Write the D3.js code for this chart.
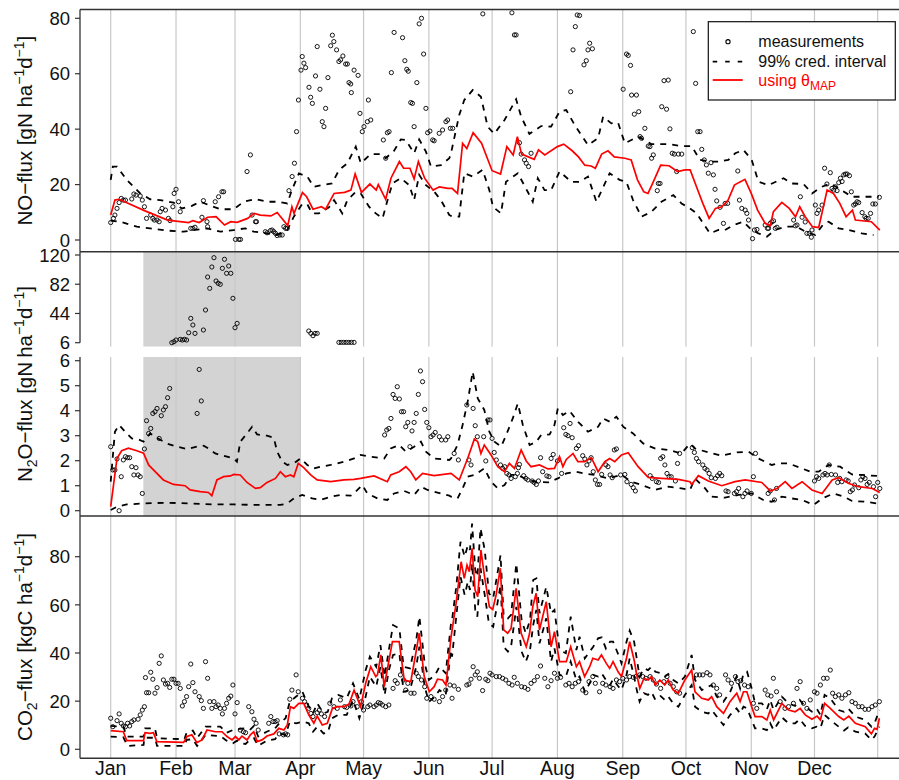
<!DOCTYPE html>
<html>
<head>
<meta charset="utf-8"/>
<script src="https://d3js.org/d3.v7.min.js"></script>
<style>
  body { margin: 0; background: #fff; }
  text { font-family: "Liberation Sans", Arial, Helvetica, sans-serif; }
</style>
</head>
<body>
<script>
// ---- data: [day of year, value] ----
var monthNames = ["Jan","Feb","Mar","Apr","May","Jun","Jul","Aug","Sep","Oct","Nov","Dec"];
var monthDays = [0,31,59,90,120,151,181,212,243,273,304,334];
var yearEnd = 364;
var shadeDays = [15.5, 90];

var noTicks = [0,20,40,60,80];
var n2oHighTicks = [6,44,82,120];
var n2oTicks = [0,1,2,3,4,5,6];
var co2Ticks = [0,20,40,60,80];

var noMid = [[0,9.0],[2,14.4],[4,14.7],[16,10.6],[27,7.2],[37,6.3],[39,7.0],[42,6.3],[46,8.2],[50,8.4],[54,5.4],[57,6.6],[60,6.4],[65,7.8],[68,9.6],[71,9.0],[76,8.7],[79,9.9],[84,5.2],[86,12],[87,9.6],[91,17.1],[93,15.6],[96,11.1],[100,12],[102,11.1],[106,16.8],[111,17.2],[114,18],[116,23.8],[119,17.2],[123,20.2],[126,18],[127,20],[130.5,14.7],[133,22.3],[137,28.3],[139,25.9],[142,25.9],[144,22],[146,28.3],[149,22.3],[153,18],[156,19.2],[160,18.6],[162,18.6],[164.6,16.8],[167,34.9],[169,33],[172,38.7],[176,34.9],[181,25],[185,23.8],[188,33.7],[191,30.7],[193,37.3],[195,31],[201,29.1],[203,32.5],[206,30.7],[212,33.7],[215,34.6],[219,32.2],[222,30],[225,27],[228,26.7],[230,25.9],[233,31],[236,32.2],[239,30],[244,29.5],[247,28.9],[250,21.7],[253,17.4],[255,16.8],[257.5,21],[261,27],[265,26.8],[269,24.7],[272.5,25.3],[275,25.3],[278,19.2],[281,13.2],[284,7.8],[287,11.4],[290,12],[293,14.4],[296,19.8],[298,20.7],[301,21.9],[304,16.8],[307,10.8],[310.6,6.0],[313,5.1],[314.5,10.2],[318.5,13.6],[322,11.4],[325,8.4],[327,12],[329.6,8.4],[333,4.8],[336,4.5],[340,18],[343,16.8],[346,13.2],[349,8.4],[352,10.8],[353.4,7.2],[361,6.6],[365,3.6]];
var noHi = [[0,21.7],[1,26.5],[3,26.5],[7.6,21.7],[14,16.8],[18.7,14.7],[23.5,14.4],[29.8,13.5],[33.8,11.4],[38.5,12.3],[42.5,13.8],[47.3,12.4],[52,11.1],[58.4,11.1],[63.1,13.8],[68.7,14.8],[74.2,13.8],[79,13.8],[83.8,13.2],[86,18],[89.3,24],[93.3,22.9],[96.4,19.2],[100.4,19.8],[105,20.4],[108.4,25.3],[112.3,27.7],[116.3,33.7],[118.7,27.7],[123.4,31],[128.2,31],[130.5,29.5],[134.5,32.2],[137.7,36.3],[140,36.1],[144,31.3],[146.4,36.3],[149.6,31.9],[152,26.5],[156.7,27],[160.7,29.5],[161.5,31.3],[165.4,45.1],[167.8,50.5],[171.8,54.1],[175.7,51.7],[178.9,40.9],[182,38.3],[186.9,43.3],[192.4,50.8],[194.8,44.5],[198.7,38.3],[204.3,41.1],[209,40.9],[213,46.3],[216.2,46.9],[220.2,41.5],[226.5,34.3],[231.3,36.7],[233.7,44.5],[237.6,42.1],[240.8,42.3],[244,34.9],[250.3,37.3],[256.6,34.6],[264.6,34.6],[270.9,33.9],[275.7,33.9],[279.6,28.9],[284.4,28.3],[288.4,28.3],[293.1,28.9],[296.4,31.3],[300.3,32.5],[304.2,28.9],[307.4,21],[312.2,19.8],[319.3,22.3],[323.3,20.4],[328.8,20.2],[332.8,16.8],[337.5,19.2],[341.5,20.4],[346.2,18.3],[351.8,15.6],[358.1,15.6],[364.5,15.6]];
var noLo = [[0,7],[4.4,6.6],[12.4,4.8],[18.7,4.2],[26.6,3.4],[34.6,3],[39.3,3.6],[45.7,4.2],[52,3],[58.4,3.6],[63.9,4.2],[67.9,3],[74.2,2.4],[79,1.8],[83.8,3.6],[86.9,8.4],[90.9,13],[93.3,12.9],[95.6,9.6],[98.8,9.6],[103.6,11.8],[106,14.4],[109.9,9.6],[112.3,14.4],[116.3,17.4],[118.7,16.8],[122.6,12],[125.8,9.6],[129,7.8],[131.4,14.4],[133.7,20.4],[137.7,22.3],[141.7,19.8],[144,14.4],[146.4,23.5],[149.6,19.8],[153.6,17.4],[156.7,14.4],[160.7,9],[162.3,8.4],[165.4,8.4],[167.8,24.1],[171.8,22.9],[176.5,25.3],[179.7,18],[181.4,12],[185.2,9.6],[187.6,21],[193.2,24.1],[197.9,17.4],[200.3,13.8],[202.7,22.3],[205.9,18],[209,18],[213,24.7],[218.6,21],[222.5,21],[226.5,22.9],[230.5,13.8],[236.8,24.1],[241.5,21.7],[244.7,21],[247.9,14.4],[251.9,8.4],[256.6,10.2],[261.4,13.8],[267,16.2],[270.9,13.2],[274.9,11.4],[278.1,9.6],[281.2,6],[284.4,2.4],[288.4,3.6],[291.5,3.6],[295.5,5.4],[300.3,6.6],[304.2,3.6],[307.4,2.4],[311.4,1.2],[315.3,3.6],[320.1,4.8],[325.6,4.8],[329.6,3],[334.4,1.8],[338.3,5.8],[340.7,6.6],[345.5,4.2],[350.2,3.6],[356.4,2.4],[362,1.8]];
var noObs = [[0,6.3],[1.3,7.8],[2,9.0],[3,11.4],[4,13.5],[5,15.0],[6,14.4],[7,14.4],[10,14.8],[11,16.6],[12,16.2],[14,15.9],[15,14.4],[16,12.0],[17,7.8],[19,9.0],[20,7.8],[20.7,7.2],[22,7.2],[23,6.6],[23.5,10.2],[24.4,11.4],[26,10.8],[27.4,7.8],[28.2,7.0],[29.5,12.0],[30.1,16.8],[31,18.3],[32.2,13.8],[33,10.2],[38,4.2],[39,4.2],[40,4.6],[43.3,8.2],[44,14.2],[45.7,6.6],[46,4.8],[49.6,13.8],[51.2,15.6],[52.8,17.4],[53.6,17.4],[59.2,0.2],[60.8,0.2],[61.6,0.2],[64.7,24.7],[66.3,30.7],[67.1,9.0],[68.7,6.6],[69.2,6.6],[73.4,3.0],[74.2,2.6],[75.8,3.4],[76.6,3.6],[77.4,3.0],[78.2,2.4],[79,1.6],[80.3,1.8],[81.4,1.8],[82.2,4.8],[83,4.2],[83.8,4.2],[84.6,17.8],[86.1,22.9],[87.2,27.7],[88.2,39.1],[89.1,50.5],[90.3,61.3],[90.9,66.2],[91.7,63.8],[92.5,62.2],[94.1,55.1],[94.9,51.5],[95.7,49.3],[97.2,59.2],[98,69.8],[99.3,54.4],[100.4,42.7],[101.2,40.9],[102,47.5],[103.1,58.6],[104.4,70.1],[105.2,73.9],[105.9,71.6],[107.2,68.6],[108.3,64.4],[109.1,65.0],[110.2,66.4],[111.5,63.5],[112.3,63.5],[113.1,56.8],[113.9,56.3],[114.2,53.2],[115.5,61.3],[117.4,59.4],[118.3,45.7],[119.4,39.1],[120.2,40.9],[121.8,42.7],[122.3,50.5],[123.4,43.3],[129.4,36.1],[130.5,29.5],[131.3,38.7],[132.1,39.1],[133.2,60.4],[134.5,74.9],[138.5,73.0],[139.6,64.7],[140.5,61.6],[141.2,60.9],[142.4,49.6],[143.2,49.3],[144,40.9],[145.3,56.8],[146.4,78.0],[147.5,80.0],[148.5,67.1],[149.6,47.5],[150.4,38.7],[151.5,39.3],[152.8,36.1],[153.5,35.8],[155.9,38.5],[157.5,39.7],[159.1,42.7],[159.9,43.3],[161.2,40.3],[162.3,40.3],[176.6,81.6],[190.4,82.0],[191.6,74.0],[192.4,74.0],[194,35.1],[194.8,31.0],[196.4,28.9],[197.2,27.7],[198.3,26.5],[199.5,31.3],[218.3,53.5],[219.4,68.6],[220.5,77.0],[221.4,81.2],[222.5,81.0],[224.6,63.2],[225.7,64.7],[226.5,68.6],[227.3,71.0],[228.6,69.0],[243.2,54.4],[244.8,67.1],[245.6,66.6],[246.7,63.0],[247.2,52.3],[248.5,45.4],[249.5,52.3],[250.6,46.3],[251.2,37.3],[251.9,36.7],[253.5,40.3],[255.1,33.9],[255.9,33.7],[256.7,29.5],[257.5,30.7],[259.4,17.8],[259.9,20.4],[260.7,20.4],[261.5,48.1],[262.6,57.5],[263.8,47.2],[264.6,57.7],[265.4,40.1],[266.5,31.3],[267.5,31.0],[268.6,24.7],[269.4,31.0],[271,31.0],[276.5,75.2],[277.6,56.5],[278.6,39.1],[279.7,39.1],[280.5,32.7],[281.7,28.9],[282.7,27.1],[283.6,24.1],[284.9,27.9],[286,23.5],[286.8,18.3],[287.6,14.1],[289.2,11.8],[290.8,6.0],[291.6,13.2],[292.8,13.2],[297.6,24.9],[298.4,14.4],[299.5,11.4],[301.1,10.8],[301.9,9.6],[302.7,7.2],[304.6,0.5],[305.5,3.6],[306.7,3.8],[310.6,5.4],[311.7,4.2],[312.2,4.2],[313,6.0],[313.8,6.6],[314.6,6.9],[315.4,4.2],[316.2,4.6],[324.1,7.2],[324.9,5.1],[325.7,5.4],[327.3,15.6],[328.1,8.2],[329.6,6.5],[330.4,2.4],[331.5,2.4],[332.5,1.0],[332.8,3.6],[334.4,12.6],[335.2,9.6],[336,10.8],[337.6,12.6],[338.8,25.9],[339.9,20.2],[341.5,24.3],[342.3,18.6],[343.1,18.0],[343.9,19.2],[344.7,17.8],[345.5,20.7],[346.3,22.3],[347.1,21.1],[347.9,23.5],[348.7,23.8],[349.5,23.8],[350.6,23.2],[351.5,17.4],[352.6,12.6],[353.4,13.0],[354.2,13.8],[355,13.5],[356.6,9.9],[357.9,8.4],[358.5,7.8],[359.5,7.8],[360.6,9.6],[361.7,13.0],[362.9,13.0],[364.8,15.4]];

var n2oMid = [[0,0.16],[1.3,1.0],[3,2.1],[5.2,2.4],[8.4,2.5],[12.4,2.4],[15.6,2.3],[18,1.83],[20.3,1.63],[25,1.23],[29.8,1.05],[35.3,1.0],[37.7,0.83],[42.5,0.76],[46.4,0.73],[48,0.6],[50.4,1.23],[53.6,1.36],[56.8,1.39],[58.4,1.45],[61.5,1.43],[64.7,1.13],[68.7,0.89],[71,0.92],[74.2,1.13],[78.2,1.29],[80.5,1.56],[82.9,1.36],[85.3,1.43],[86.9,1.36],[89,1.89],[91.6,1.72],[94.9,1.43],[98,1.23],[104.4,1.16],[110.7,1.23],[115.5,1.25],[118.6,1.29],[125,1.39],[131.3,1.16],[132.9,1.43],[136.9,1.56],[140.1,1.76],[142.4,1.56],[144.8,1.23],[148,1.49],[153.5,1.4],[161.5,1.49],[165.4,1.23],[169.4,2.09],[172.6,2.87],[174.2,2.76],[175.7,2.29],[177.3,2.63],[180.5,2.23],[183.7,1.76],[186.9,1.56],[189.2,1.89],[191.6,1.69],[194.8,2.43],[197.2,1.99],[199.5,1.76],[203.5,1.83],[207.5,1.67],[210.6,1.69],[213,2.16],[214.6,1.76],[216.2,2.05],[219.4,2.29],[221.7,1.96],[224.9,1.96],[228.1,2.12],[231.3,1.56],[234.5,1.96],[236.8,2.09],[239.2,1.96],[242.4,2.23],[245.6,2.32],[250.3,1.76],[255.1,1.33],[261.4,1.29],[269.4,1.25],[274.9,1.16],[275.7,1.05],[278.9,1.4],[283.6,1.19],[290,1.0],[296.3,1.16],[301.1,1.23],[309,1.13],[313,0.79],[316.2,0.89],[320.1,1.16],[323.3,0.89],[328.1,1.16],[332.8,0.83],[337.6,0.69],[342.4,1.23],[345.5,1.32],[350.3,1.09],[355,0.96],[361.4,0.89],[365,0.73]];
var n2oHi = [[0,1.16],[2,3.16],[4,3.43],[7.6,3.09],[10,2.89],[13.2,2.85],[15.6,2.76],[18.7,3.09],[21.9,2.92],[26.6,2.69],[31.4,2.56],[36.2,2.47],[40.9,2.56],[44.1,2.6],[46.4,2.49],[49.6,2.29],[55.2,2.16],[58.4,2.09],[59.9,1.96],[61.5,2.76],[64.7,3.09],[67.1,3.36],[69.5,3.05],[74.2,3.0],[77.4,2.92],[79,2.36],[81.4,1.96],[83.8,1.83],[86.9,1.89],[90.1,2.09],[93.3,1.83],[96.4,1.69],[99.6,1.76],[104.4,1.83],[110.7,1.96],[115.5,2.09],[118.6,2.23],[123.4,2.16],[129.8,2.09],[132.9,2.49],[136.9,2.63],[140.1,2.36],[144,2.56],[147.2,2.76],[149.6,2.36],[153.5,2.09],[160.7,2.03],[161.5,2.09],[164.6,2.63],[167,3.43],[169.4,4.36],[171.8,5.56],[174.2,4.49],[177.3,4.03],[179.7,3.16],[182.1,2.76],[185.3,2.56],[187.7,3.03],[190.8,3.69],[193.2,4.29],[195.6,3.43],[198.8,2.63],[202,2.76],[204.3,3.03],[208.3,3.05],[210.6,3.43],[212.2,4.09],[214.6,3.83],[217.8,3.99],[221.7,3.56],[226.5,3.16],[231.3,3.36],[233.7,3.69],[236.8,3.56],[240,3.76],[243.2,3.36],[247.9,3.09],[252.7,2.69],[258.2,2.49],[264.6,2.43],[270.9,2.29],[274.9,2.69],[277.3,2.49],[283.6,2.33],[290,2.2],[297.2,2.33],[302.7,2.36],[307.4,2.09],[313.7,1.83],[316.9,1.89],[321.7,1.89],[327.2,1.72],[332,1.56],[336,1.56],[340.7,1.83],[346.2,1.76],[351.8,1.45],[356.6,1.43],[363.8,1.39]];
var n2oLo = [[0,0.03],[3,0.16],[7.6,0.25],[15.6,0.29],[26.6,0.32],[37.7,0.29],[48.8,0.25],[58.4,0.25],[69.5,0.23],[80.5,0.23],[83.8,0.29],[86.9,0.49],[90.9,0.63],[95.6,0.49],[99.6,0.43],[104.4,0.56],[109.1,0.63],[113.9,0.6],[117.1,0.83],[119.4,1.03],[121.8,0.69],[126.6,0.49],[131.3,0.43],[134.5,0.69],[139.3,0.79],[144,0.63],[147.2,0.96],[150.4,0.83],[156.7,0.69],[160.7,0.6],[161.5,0.56],[164.6,0.49],[167,0.89],[169.4,1.36],[172.6,1.43],[177.3,1.69],[180.5,1.16],[183.7,0.89],[186.9,1.03],[190,1.43],[193.2,1.43],[196.4,1.29],[201.1,1.16],[207.5,1.13],[212.2,1.29],[216.2,1.49],[221,1.56],[224.9,1.49],[229.7,1.43],[236.1,1.29],[242.4,1.43],[247.2,1.16],[251.9,1.03],[258.2,0.83],[264.6,0.96],[270.9,0.89],[274.9,0.83],[277.3,1.29],[282.1,0.89],[285.2,0.56],[291.5,0.52],[297.9,0.63],[304.2,0.69],[309.7,0.43],[313.7,0.36],[318.5,0.56],[323.3,0.49],[328.1,0.43],[333.6,0.23],[337.6,0.49],[343.1,0.69],[347.9,0.56],[351.8,0.39],[358.1,0.36],[363.8,0.29]];
var n2oObs = [[0,2.56],[1,1.63],[2,1.63],[3,2.07],[4,0.0],[5,1.36],[6,2.03],[7,2.16],[8,2.12],[9,2.12],[10,1.76],[11,1.43],[12,1.72],[13,1.43],[14,1.36],[15,0.69],[16,2.47],[17,3.6],[18,3.09],[19,3.29],[20,3.89],[21,3.96],[22,4.09],[23,2.89],[24,3.8],[25,4.03],[26,4.16],[27,4.52],[28,4.89],[41,3.89],[42,5.65],[43,4.39],[130,3.03],[131,3.23],[132,3.29],[133,3.69],[134,4.65],[135,4.49],[136,4.96],[137,4.47],[138,3.96],[139,3.96],[140,3.36],[141,3.53],[142,2.56],[143,3.19],[144,3.53],[145,3.89],[146,4.65],[147,5.59],[148,5.16],[149,4.05],[150,3.53],[151,3.32],[152,2.96],[153,3.03],[154,3.13],[156,2.96],[157,2.83],[159,2.83],[160,2.96],[163,2.29],[165,2.03],[169,4.23],[170,2.03],[171,1.83],[172,4.09],[173,3.4],[174,2.96],[177,2.96],[178,1.99],[179,3.63],[180,3.63],[181,2.89],[182,2.33],[183,2.03],[185,1.83],[186,1.69],[187,1.76],[188,1.49],[189,1.43],[190,1.29],[192,1.36],[193,1.49],[193.5,1.72],[194,1.85],[196,1.4],[197,1.29],[198,1.23],[200,1.19],[201,1.13],[202,1.05],[203,1.19],[204,2.12],[205,1.56],[207,1.39],[208,1.36],[209,2.09],[210,2.25],[212,1.99],[214,1.49],[215,3.32],[216,3.05],[217,3.0],[218,3.49],[219,2.92],[221,2.49],[222,2.6],[224,2.2],[225,2.07],[226,1.83],[227,1.99],[228,2.12],[229,1.56],[230,1.23],[231,1.05],[232,1.05],[233,1.45],[235,1.83],[236,1.76],[237,1.43],[238,1.32],[239,2.43],[240,2.47],[242,1.43],[244,1.45],[245,1.16],[247,1.05],[248,0.92],[249,0.79],[256,1.4],[257,1.29],[259,1.16],[260,1.13],[261,2.09],[262,2.16],[263,1.83],[264,1.49],[265,1.36],[266,1.36],[268,1.19],[269,1.89],[270,2.29],[276,2.52],[277,2.33],[278,2.09],[279,1.96],[281,1.83],[282,1.69],[283,1.63],[284,1.49],[285,1.32],[287,1.29],[288,1.4],[289,1.49],[290,1.4],[292,0.79],[293,0.76],[296,0.69],[297,0.76],[298,0.89],[300,0.56],[301,0.69],[302,0.79],[304,0.69],[305,1.36],[306,2.29],[312,0.69],[313,0.79],[315,0.43],[316,0.89],[334,1.19],[335,1.36],[336,1.29],[338,1.43],[339,1.49],[340,1.43],[341,1.83],[342,1.45],[344,1.43],[345,1.13],[346,1.29],[347,1.16],[349,1.23],[350,1.19],[351,0.76],[352,0.83],[353,1.03],[355,0.92],[356,1.23],[357,1.36],[358,1.29],[359,1.05],[360,1.13],[362,0.96],[363,0.56],[364,1.13],[365,0.89]];
var n2oObsHigh = [[29,6.0],[30,7.3],[31,9.5],[33,10.3],[34,9.5],[35,10.3],[36,9.5],[37,19.0],[38,37.6],[39,29.0],[40,18.1],[44,22.5],[45,48.5],[46,91.4],[47,76.7],[48,104.4],[49,116.5],[50,86.2],[51,83.2],[52,81.9],[53,102.7],[54,114.4],[55,96.2],[56,105.7],[57,96.2],[58,63.7],[59,25.5],[60,31.1],[94,21.2],[95,18.1],[96,15.1],[97,18.1],[98,18.1],[108.3,6.4],[109.4,6.4],[110.6,6.4],[111.8,6.4],[113,6.4],[114.2,6.4],[115.5,6.4]];

var co2Mid = [[0,7.75],[6,7.3],[7.6,3.6],[15.6,3.6],[16.3,6.9],[18.7,6.6],[20.3,6.9],[21.9,3.2],[34.6,2.9],[36.2,5.3],[38.5,6.0],[40.9,2.8],[43.3,3.9],[45.7,8.0],[49.6,7.3],[52.8,7.3],[55.2,5.3],[57.6,3.9],[59.2,5.3],[60.8,3.9],[62.3,5.5],[64.7,3.9],[66.3,6.0],[67.9,7.3],[69.5,3.2],[71.8,3.9],[74.2,5.5],[77.4,6.4],[79.8,8.7],[82.2,8.0],[83.8,10.1],[85.3,17.7],[86.9,17.0],[89.3,19.1],[91.6,19.1],[94,14.3],[96.4,10.8],[98,13.8],[100.4,10.1],[102.8,10.8],[105.2,17.0],[107.6,17.7],[110.7,17.7],[113.1,18.8],[115.5,24.6],[118.6,17.7],[121,27.4],[123.4,34.3],[125.8,30.2],[126.6,30.9],[128.2,39.2],[129.8,26.0],[132.1,37.1],[133.7,44.7],[136.9,44.7],[139.3,28.8],[142.4,28.1],[144.8,39.9],[146.4,48.2],[148.8,30.2],[151.2,23.9],[153.5,26.0],[155.1,29.1],[157.5,28.8],[159.1,26.7],[161.5,46.5],[163.9,60.6],[166.3,77.9],[167.8,71.0],[169.1,76.5],[170.2,73.8],[171.5,83.5],[172.9,66.2],[174.2,63.4],[175.7,82.8],[177.3,72.4],[179.7,59.2],[181.3,58.1],[182.9,64.1],[184.9,75.2],[186.5,49.6],[188.4,48.2],[190,50.2],[192.4,66.9],[194.8,48.2],[197.2,42.6],[198.8,48.2],[200.3,59.2],[201.9,64.8],[203.5,49.6],[206.7,61.3],[209,42.6],[210.6,48.9],[213,36.4],[216.2,36.4],[218.3,42.6],[221,34.3],[222.5,36.4],[224.9,30.2],[227.3,34.3],[228.8,37.8],[231.3,37.1],[232.9,39.2],[235.2,35.7],[236.8,33.6],[238.4,36.4],[240.8,32.2],[242.4,30.2],[244.8,37.8],[246.3,44.7],[248.4,37.1],[249.5,31.6],[251.1,25.3],[253.1,29.5],[255.1,28.8],[256.6,30.2],[258.5,26.7],[260.6,28.8],[262.9,26.7],[264.6,28.8],[267,24.6],[269.4,23.3],[272.5,28.8],[275.7,32.9],[277.3,23.9],[280.5,21.2],[283.6,20.5],[285.2,21.9],[287.6,17.7],[290.8,14.9],[293.9,19.8],[297.1,23.3],[298.7,19.8],[300.3,23.9],[301.9,23.9],[304.2,17.7],[305.8,13.6],[309,13.6],[311.4,12.2],[313,16.3],[314.6,12.2],[318.5,19.1],[321.7,16.3],[324.8,15.6],[327.2,17.0],[329.6,14.3],[332.8,12.5],[335.2,13.8],[336.8,12.2],[338.8,19.1],[341.5,17.0],[345.5,13.6],[347.9,12.2],[350.3,13.8],[353.4,10.8],[358.1,9.4],[361,6.4],[362.5,8.7],[363.7,8.3],[364.8,12.9]];
var co2Hi = [[0,9.7],[6,9.4],[7.6,5.3],[15.6,5.3],[16.3,8.7],[21,8.7],[22,4.6],[35,4.2],[36,6.9],[39,7.8],[41,4.6],[45,9.4],[52,9.4],[55,6.9],[58,8.0],[63,8.7],[66,8.0],[68,9.7],[70,5.3],[74,7.3],[78,8.7],[80,10.8],[83,12.9],[85,19.8],[88,21.9],[91,23.9],[94,17.7],[96,14.9],[98,19.1],[101,14.9],[103,15.6],[105,21.2],[108,22.6],[112,21.2],[115,27.4],[118,20.8],[121,32.9],[123,38.5],[126,34.3],[128,43.3],[130,30.2],[132,41.2],[134,51.6],[137,50.2],[139,34.3],[142,33.6],[145,45.4],[146.5,55.1],[149,35.7],[151,28.8],[154,30.9],[156,34.3],[159,31.6],[161.5,52.3],[162,53.7],[164,67.5],[166,86.2],[168,80.0],[169.5,84.8],[170.5,82.8],[171.5,93.8],[173,74.5],[174,71.7],[175.5,91.8],[177.5,82.8],[179.5,64.8],[181.5,62.7],[183,70.3],[185,80.7],[186.5,55.1],[188.5,54.4],[190,55.8],[192.5,77.2],[195,53.7],[197,48.2],[199,53.7],[200.5,70.3],[202,71.0],[203.5,56.5],[206.7,67.5],[209,56.5],[210.6,57.9],[213,41.2],[216,39.9],[218.3,55.1],[221,41.2],[222.5,46.8],[225,37.8],[227.3,40.6],[229,42.6],[231.3,46.1],[233,46.5],[235,41.9],[237,44.7],[238.4,44.7],[241,39.2],[242.4,35.7],[244.8,44.7],[246.3,49.3],[248.4,44.7],[249.5,38.5],[251,30.2],[253,33.6],[255,32.9],[256.6,34.3],[258.5,32.2],[261,31.6],[263,30.2],[264.6,31.3],[267,28.8],[269.4,27.4],[272.5,30.2],[275.7,39.2],[277.3,28.8],[280.5,24.6],[283.6,26.0],[285.2,26.7],[287.6,21.9],[290.8,19.8],[294,23.9],[297,30.2],[298.7,25.3],[300.3,31.6],[302,32.2],[304.2,25.3],[305.8,19.1],[309,19.1],[311.4,16.6],[313,20.5],[314.6,16.3],[318.5,21.9],[321.7,19.1],[324.8,18.0],[327,20.5],[329.6,17.7],[332.8,15.6],[335,17.0],[336.8,14.3],[338.8,22.6],[341.5,21.2],[345.5,16.3],[348,15.6],[350,17.0],[353.4,13.6],[358,12.2],[361,9.4],[362.5,10.8],[364.8,16.3]];
var co2Lo = [[0,5.3],[6,5.0],[8,1.4],[15.6,1.8],[16,4.8],[21,4.8],[22,1.4],[35,1.4],[36,3.9],[39,4.2],[41,1.4],[45,6.0],[52,5.5],[55,3.6],[58,2.5],[60,3.6],[62,2.5],[64,2.2],[66,3.9],[68,4.6],[70,1.4],[74,3.6],[78,4.2],[80,6.6],[83,6.0],[85,11.5],[88,10.8],[91,11.5],[94,10.8],[96,7.3],[98,9.4],[101,6.6],[103,6.9],[105,12.9],[108,14.3],[112,14.3],[115,20.5],[118,12.9],[121,21.9],[123,30.2],[126,26.0],[128,34.3],[130,22.6],[132,32.9],[134,39.2],[137,39.9],[139,23.9],[142,24.6],[145,34.3],[146.5,42.6],[149,26.0],[151,19.8],[154,21.9],[156,24.6],[159,22.6],[161.5,41.2],[162,38.5],[164,55.1],[166,71.7],[168,64.1],[169.5,69.6],[170.5,66.2],[171.5,77.2],[173,57.9],[174,55.1],[175.5,75.2],[177.5,64.1],[179.5,52.3],[181.5,50.9],[183,57.9],[185,68.2],[186.5,42.6],[188.5,40.6],[190,42.6],[192.5,59.2],[195,40.6],[197,36.4],[199,41.2],[200.5,51.6],[202,57.9],[203.5,44.0],[206.7,54.4],[209,36.4],[210.6,41.9],[213,30.9],[216,30.2],[218.3,36.4],[221,28.8],[222.5,30.2],[225,23.9],[227.3,27.4],[229,30.9],[231.3,30.2],[233,31.6],[235,28.8],[237,26.7],[238.4,29.1],[241,26.0],[242.4,24.6],[244.8,30.9],[246.3,37.8],[248.4,30.2],[249.5,25.3],[251,19.8],[253,23.3],[255,22.6],[256.6,23.9],[258.5,20.5],[261,22.1],[263,20.5],[264.6,21.9],[267,19.1],[269.4,17.7],[272.5,22.6],[275.7,26.7],[277.3,17.7],[280.5,15.6],[283.6,14.9],[285.2,16.3],[287.6,13.6],[290.8,10.1],[294,14.3],[297,17.0],[298.7,14.9],[300.3,17.7],[302,17.0],[304.2,12.2],[305.8,8.7],[309,8.7],[311.4,8.0],[313,10.8],[314.6,8.0],[318.5,13.3],[321.7,10.8],[324.8,10.8],[327,12.5],[329.6,9.7],[332.8,8.7],[335,9.4],[336.8,8.7],[338.8,14.3],[341.5,12.2],[345.5,9.4],[348,7.8],[350,9.1],[353.4,7.3],[358,6.6],[361,3.9],[362.5,5.3],[364.8,9.4]];
var co2Obs = [[0,12.9],[1,9.4],[3,11.9],[4,14.7],[5,10.8],[6,9.7],[7,9.4],[8,10.8],[9,9.7],[10,11.5],[11,12.2],[13,12.5],[14,14.3],[15,16.3],[16,17.7],[16.5,29.8],[17,23.5],[18,23.5],[19,32.0],[20,29.1],[21,23.3],[22,25.6],[23,35.7],[24,38.8],[25,28.8],[26,27.1],[27,27.4],[28,25.7],[29,29.1],[30,29.1],[31,27.4],[32,27.4],[33,25.3],[34,18.0],[35,19.8],[36,21.9],[37,26.0],[38,35.4],[39,27.7],[40,23.9],[42,21.9],[43,20.2],[44,17.0],[45,36.4],[46,29.5],[47,19.8],[48,17.0],[49,19.8],[50,17.7],[51,18.4],[52,17.0],[53,14.7],[54,17.0],[55,19.1],[56,21.2],[57,22.1],[58,26.7],[59,14.7],[60,19.4],[61.5,8.0],[63,7.3],[64,6.9],[65.5,17.7],[67,15.6],[68,12.5],[69,10.8],[70,8.0],[75,10.8],[76,13.6],[77,11.5],[78,11.5],[79,11.9],[80,6.4],[82,6.0],[83,6.4],[84,6.0],[85,20.8],[86,24.6],[88,30.9],[89,23.9],[91,21.2],[92,19.8],[93,18.4],[94,17.0],[95,14.9],[96,13.6],[98,15.2],[99,16.3],[100,14.7],[101.5,13.6],[104,19.1],[106,17.7],[107.5,17.0],[109,20.5],[111,17.7],[112,17.4],[114,18.0],[115,19.8],[117,17.7],[119,19.8],[120,16.3],[122,17.7],[123,18.4],[125,17.7],[126,18.4],[127,19.4],[128,19.1],[129,18.4],[130.5,17.7],[132,18.4],[134,25.3],[135,28.5],[136,27.4],[137.5,30.9],[139,28.8],[140,24.6],[141,27.4],[142.5,23.3],[144,23.3],[145,31.6],[146,30.2],[147.5,28.8],[149,26.0],[150,21.2],[152,21.9],[153.5,20.8],[156,19.8],[157.5,21.9],[159,24.6],[161,26.7],[162,21.2],[163,26.3],[165,24.9],[169,26.7],[170,27.1],[171,29.1],[172,34.3],[173,30.9],[174,32.2],[175,29.5],[176.5,24.4],[178,29.1],[179,28.5],[180,31.6],[181,30.9],[183,30.2],[184.5,30.2],[186,29.5],[187.5,28.8],[189,27.4],[190.5,26.7],[191.5,29.9],[193,27.4],[195,26.0],[196.5,25.7],[198,24.9],[199.5,27.4],[201,28.5],[202.5,30.2],[204,34.6],[206,29.5],[207.5,26.0],[209,28.5],[210.6,31.6],[212,29.5],[213.5,29.9],[216,26.7],[217.5,27.4],[219,26.0],[220.5,27.4],[222,28.1],[224,24.6],[225.5,23.5],[227,28.1],[228.8,30.2],[230,27.4],[232,23.9],[233.5,27.4],[235,26.7],[237,26.0],[238.4,25.3],[240,28.8],[241.5,28.1],[243,29.5],[244.8,28.8],[246.3,30.2],[248,29.9],[249.5,30.4],[251,30.9],[252.5,30.2],[254,29.5],[256,30.2],[257.5,28.8],[259,27.1],[261,25.3],[262.5,28.1],[264,30.2],[265.5,27.4],[267,26.0],[268.6,23.9],[270,23.3],[278,30.9],[279.5,30.9],[281,30.9],[283,31.8],[284.4,30.9],[286,26.7],[287.6,25.3],[289,22.6],[291.8,30.9],[293,28.8],[294.6,27.4],[296.5,30.2],[297.7,28.1],[299,28.5],[300.8,26.7],[302.5,26.0],[305,19.1],[306.6,17.0],[310.6,24.6],[311.8,22.6],[313.4,22.1],[314.5,29.5],[316,23.9],[317.7,19.8],[320,17.0],[321.7,17.7],[324,19.1],[325.7,25.3],[327.2,28.1],[328.8,19.1],[330.4,17.0],[332,20.5],[334,23.9],[335.2,23.3],[336.8,26.7],[338.3,29.5],[340,29.5],[341.5,32.9],[342.6,23.3],[343.9,21.9],[345.5,22.6],[347,21.2],[348.7,22.6],[350.3,23.5],[351.8,19.8],[353.4,19.1],[355,17.7],[356.6,17.7],[358,16.6],[359.7,16.6],[361.3,17.7],[362.9,18.4],[364.8,19.8]];

// ---- layout ----
var W = 899, H = 780, left = 80, right = 899;
var font = '"Liberation Sans", Arial, Helvetica, sans-serif';

var svg = d3.select("body").append("svg")
  .attr("width", W).attr("height", H)
  .style("background", "#fff");
var defs = svg.append("defs");

var x = d3.scaleLinear().domain([0, yearEnd]).range([110.7, 877.7]);
var gridDays = monthDays.concat([yearEnd]);

var panels = [
  {id: "p1", top: 9.5, bottom: 251.7, axisTop: 9.5, axisBottom: 251.7,
   y: d3.scaleLinear().domain([0, 80]).range([240, 18.3]), ticks: noTicks,
   shade: false, obs: noObs, lo: noLo, hi: noHi, mid: noMid},
  {id: "p2", top: 251.7, bottom: 346.7, axisTop: 251.7, axisBottom: 342.7,
   y: d3.scaleLinear().domain([6, 120]).range([342.7, 255]), ticks: n2oHighTicks,
   shade: true, obs: n2oObsHigh},
  {id: "p3", top: 357, bottom: 516, axisTop: 357, axisBottom: 516,
   y: d3.scaleLinear().domain([0, 6]).range([510.7, 360.7]), ticks: n2oTicks,
   shade: true, obs: n2oObs, lo: n2oLo, hi: n2oHi, mid: n2oMid},
  {id: "p4", top: 516, bottom: 758.3, axisTop: 516, axisBottom: 758.3,
   y: d3.scaleLinear().domain([0, 80]).range([749.3, 556.7]), ticks: co2Ticks,
   shade: false, obs: co2Obs, lo: co2Lo, hi: co2Hi, mid: co2Mid}
];

panels.forEach(function(p) {
  defs.append("clipPath").attr("id", "clip-" + p.id)
    .append("rect").attr("x", left).attr("y", p.top)
    .attr("width", right - left).attr("height", p.bottom - p.top);

  var g = svg.append("g").attr("clip-path", "url(#clip-" + p.id + ")");

  if (p.shade) {
    g.append("rect")
      .attr("x", x(shadeDays[0])).attr("y", p.top)
      .attr("width", x(shadeDays[1]) - x(shadeDays[0]))
      .attr("height", p.bottom - p.top)
      .attr("fill", "#d3d3d3");
  }

  g.selectAll("line.grid").data(gridDays).enter().append("line")
    .attr("x1", function(d) { return x(d); }).attr("x2", function(d) { return x(d); })
    .attr("y1", p.top).attr("y2", p.bottom)
    .attr("stroke", "#c8c8c8").attr("stroke-width", 1.2);

  g.selectAll("circle").data(p.obs).enter().append("circle")
    .attr("cx", function(d) { return x(d[0]); })
    .attr("cy", function(d) { return p.y(d[1]); })
    .attr("r", 2.1)
    .attr("fill", "none").attr("stroke", "#000").attr("stroke-width", 0.9);

  var line = d3.line().x(function(d) { return x(d[0]); }).y(function(d) { return p.y(d[1]); });
  if (p.lo) {
    [p.lo, p.hi].forEach(function(s) {
      g.append("path").attr("d", line(s))
        .attr("fill", "none").attr("stroke", "#000")
        .attr("stroke-width", 1.8).attr("stroke-dasharray", "6,6");
    });
    g.append("path").attr("d", line(p.mid))
      .attr("fill", "none").attr("stroke", "#ff0000").attr("stroke-width", 1.7);
  }

  // left axis
  svg.append("line").attr("x1", left).attr("x2", left)
    .attr("y1", p.axisTop).attr("y2", p.axisBottom)
    .attr("stroke", "#333").attr("stroke-width", 1.3);
  var tk = svg.append("g");
  tk.selectAll("line").data(p.ticks).enter().append("line")
    .attr("x1", left - 5).attr("x2", left)
    .attr("y1", function(d) { return p.y(d); }).attr("y2", function(d) { return p.y(d); })
    .attr("stroke", "#333").attr("stroke-width", 1.2);
  tk.selectAll("text").data(p.ticks).enter().append("text")
    .attr("x", left - 10).attr("y", function(d) { return p.y(d); })
    .attr("dy", "0.36em").attr("text-anchor", "end")
    .attr("font-size", 18.5).attr("fill", "#111")
    .text(function(d) { return d; });
});

// frame lines
[9.5, 251.7, 516, 758.3].forEach(function(yy) {
  svg.append("line").attr("x1", left).attr("x2", right)
    .attr("y1", yy).attr("y2", yy)
    .attr("stroke", "#333").attr("stroke-width", 1.6);
});

// month labels
svg.selectAll("text.month").data(monthNames).enter().append("text")
  .attr("class", "month")
  .attr("x", function(d, i) { return x(monthDays[i]); })
  .attr("y", 775)
  .attr("text-anchor", "middle").attr("font-size", 19.5).attr("fill", "#111")
  .text(function(d) { return d; });

// y titles
function yTitle(cx, cy, parts) {
  var t = svg.append("text")
    .attr("transform", "translate(" + cx + "," + cy + ") rotate(-90)")
    .attr("text-anchor", "middle").attr("font-size", 20.5).attr("fill", "#111");
  parts.forEach(function(pt) {
    var s = t.append("tspan").text(pt.t);
    if (pt.sup) s.attr("font-size", 14).attr("dy", -8);
    else if (pt.sub) s.attr("font-size", 14).attr("dy", 5);
    if (pt.back) s.attr("dy", pt.back);
  });
}
yTitle(32, 130.6, [{t: "NO\u2212flux [gN ha"}, {t: "\u22121", sup: true}, {t: "d", back: 8},
                   {t: "\u22121", sup: true}, {t: "]", back: 8}]);
yTitle(32, 384, [{t: "N"}, {t: "2", sub: true}, {t: "O\u2212flux [gN\u2009ha", back: -5},
                 {t: "\u22121", sup: true}, {t: "d", back: 8}, {t: "\u22121", sup: true}, {t: "]", back: 8}]);
yTitle(32, 637, [{t: "CO"}, {t: "2", sub: true}, {t: "\u2212flux [kgC ha", back: -5},
                 {t: "\u22121", sup: true}, {t: "d", back: 8}, {t: "\u22121", sup: true}, {t: "]", back: 8}]);

// legend
var lg = svg.append("g");
lg.append("rect").attr("x", 708.3).attr("y", 21.7).attr("width", 187).attr("height", 78.3)
  .attr("fill", "#fff").attr("stroke", "#111").attr("stroke-width", 1.2);
lg.append("circle").attr("cx", 728).attr("cy", 41.7).attr("r", 2.1)
  .attr("fill", "none").attr("stroke", "#000").attr("stroke-width", 1.1);
lg.append("line").attr("x1", 712.7).attr("x2", 742.7).attr("y1", 61.7).attr("y2", 61.7)
  .attr("stroke", "#000").attr("stroke-width", 1.8).attr("stroke-dasharray", "4.5,8");
lg.append("line").attr("x1", 712.7).attr("x2", 742.7).attr("y1", 80).attr("y2", 80)
  .attr("stroke", "#ff0000").attr("stroke-width", 1.8);
lg.append("text").attr("x", 758.3).attr("y", 46.7).attr("font-size", 16).attr("fill", "#111")
  .text("measurements");
lg.append("text").attr("x", 758.3).attr("y", 66.5).attr("font-size", 16).attr("fill", "#111")
  .text("99% cred. interval");
var tl = lg.append("text").attr("x", 758.3).attr("y", 85.5).attr("font-size", 16).attr("fill", "#ff0000");
tl.append("tspan").text("using \u03b8");
tl.append("tspan").attr("font-size", 12).attr("dy", 4).text("MAP");
</script>
</body>
</html>
